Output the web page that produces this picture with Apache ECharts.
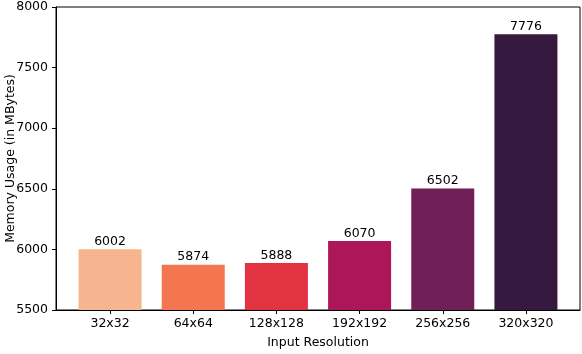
<!DOCTYPE html>
<html>
<head>
<meta charset="utf-8">
<script src="https://cdn.jsdelivr.net/npm/echarts@6/dist/echarts.min.js"></script>
<style>
  html, body { margin: 0; padding: 0; background: #fff; }
  #chart { width: 582px; height: 354px; }
</style>
</head>
<body>
<div id="chart"></div>
<script>
const categories = ["32x32", "64x64", "128x128", "192x192", "256x256", "320x320"];
const memory = [6002, 5874, 5888, 6070, 6502, 7776];
const barColors = ["#f6b48f", "#f37651", "#e13342", "#ad1759", "#701f57", "#35193e"];
const yTicks = [5500, 6000, 6500, 7000, 7500, 8000];

const positions = categories.map((c, i) => i);
const font = "DejaVu Sans";

const chart = echarts.init(document.getElementById("chart"));
chart.setOption({
  animation: false,
  grid: {
    left: 56, right: 2, top: 7, bottom: 44,
    outerBoundsMode: "none", containLabel: false,
    show: true, borderColor: "#000", borderWidth: 1
  },
  xAxis: {
    type: "value",
    min: -0.65, max: 5.65,
    name: "Input Resolution",
    nameLocation: "middle",
    nameGap: 26,
    nameMoveOverlap: false,
    nameTextStyle: { fontFamily: font, fontSize: 12.5, color: "#000" },
    splitLine: { show: false },
    axisLine: { show: true, onZero: false, lineStyle: { color: "#000", width: 1 } },
    axisTick: { show: true, length: 4, customValues: positions, lineStyle: { color: "#000" } },
    axisLabel: {
      customValues: positions,
      fontFamily: font, fontSize: 12.5, color: "#000", margin: 7,
      formatter: v => categories[Math.round(v)]
    }
  },
  yAxis: {
    type: "value",
    min: yTicks[0], max: yTicks[yTicks.length - 1], interval: 500,
    name: "Memory Usage (in MBytes)",
    nameLocation: "middle",
    nameGap: 39,
    nameMoveOverlap: false,
    nameTextStyle: { fontFamily: font, fontSize: 12.5, color: "#000" },
    splitLine: { show: false },
    axisLine: { show: true, onZero: false, lineStyle: { color: "#000", width: 1 } },
    axisTick: { show: true, length: 4, lineStyle: { color: "#000" } },
    axisLabel: {
      fontFamily: font, fontSize: 12.5, color: "#000", margin: 8,
      formatter: v => String(v)
    }
  },
  series: [{
    type: "bar",
    barWidth: 63,
    data: memory.map((v, i) => ({
      value: [i, v],
      itemStyle: { color: barColors[i] }
    })),
    label: {
      show: true, position: "top", distance: 1,
      fontFamily: font, fontSize: 12.5, color: "#000",
      formatter: p => String(p.value[1])
    }
  }]
});
</script>
</body>
</html>
